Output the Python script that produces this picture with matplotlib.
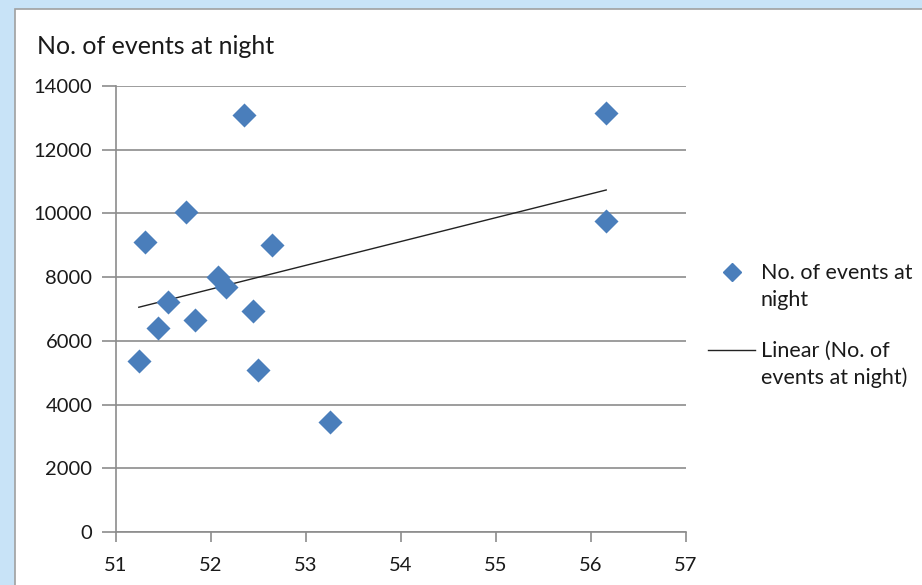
import numpy as np
import matplotlib.pyplot as plt
from matplotlib.patches import Rectangle
from matplotlib.lines import Line2D
from matplotlib.legend_handler import HandlerLine2D

plt.rcParams['font.family'] = ['Lato', 'DejaVu Sans']

# data
xvals = [51.24, 51.31, 51.44, 51.55, 51.74, 51.83, 52.07, 52.16, 52.35, 52.44, 52.49, 52.64, 53.25, 56.16, 56.16]
yvals = [5370, 9100, 6400, 7220, 10040, 6650, 8000, 7690, 13090, 6940, 5090, 9010, 3450, 13150, 9760]
xticks = [51, 52, 53, 54, 55, 56, 57]
yticks = [0, 2000, 4000, 6000, 8000, 10000, 12000, 14000]
title = "No. of events at night"

blue = '#4A7EBB'
grey = '#8C8C8C'


class TopHandler(HandlerLine2D):
    # put the legend symbol on the first line of a two-line label
    def create_artists(self, legend, orig_handle, xdescent, ydescent,
                       width, height, fontsize, trans):
        arts = super().create_artists(legend, orig_handle, xdescent, ydescent,
                                      width, height, fontsize, trans)
        for a in arts:
            a.set_ydata(np.asarray(a.get_ydata()) + 0.70 * fontsize)
        return arts


fig = plt.figure(figsize=(9.22, 5.85), dpi=100)
fig.patch.set_facecolor('#C8E3F7')
fig.add_artist(Rectangle((14.5 / 922, -0.05), 1.0, 1 - 9 / 585 + 0.05,
                         transform=fig.transFigure, facecolor='white',
                         edgecolor='#A0A0A0', lw=1.2, zorder=0))

ax = fig.add_axes([116 / 922, 1 - 532 / 585, 570 / 922, 446 / 585])
ax.set_facecolor('none')

ax.scatter(xvals, yvals, marker='D', s=150, color=blue, zorder=3, linewidths=0)

# linear trendline
m, b = np.polyfit(xvals, yvals, 1)
xs = np.array([min(xvals), max(xvals)])
ax.plot(xs, m * xs + b, color='#222222', lw=1.0, zorder=2)

ax.set_xlim(51, 57)
ax.set_ylim(0, 14000)
ax.set_xticks(xticks)
ax.set_yticks(yticks)
ax.set_xticklabels([str(t) for t in xticks])
ax.set_yticklabels([str(t) for t in yticks])
ax.tick_params(axis='both', labelsize=14.5, colors=grey, labelcolor='#1a1a1a')
ax.tick_params(axis='x', length=7, width=1.2, direction='out', pad=11)
ax.tick_params(axis='y', length=10, width=1.2, direction='out', pad=7)
ax.grid(axis='y', color=grey, lw=1.2)
ax.set_axisbelow(True)
for s in ['top', 'right']:
    ax.spines[s].set_visible(False)
for s in ['left', 'bottom']:
    ax.spines[s].set_color(grey)
    ax.spines[s].set_linewidth(1.2)

fig.text(37 / 922, 1 - 46 / 585, title, fontsize=18, va='center', ha='left', color='#1a1a1a')

handles = [Line2D([], [], marker='D', color=blue, ls='none', ms=9),
           Line2D([], [], color='#222222', lw=1.0)]
labels = ["No. of events at\nnight", "Linear (No. of\nevents at night)"]
leg = fig.legend(handles, labels, loc='upper left', bbox_to_anchor=(708 / 922, 1 - 263 / 585),
                 frameon=False, fontsize=15.5, handlelength=2.2, handletextpad=0.25,
                 labelspacing=1.45, borderpad=0, borderaxespad=0, labelcolor='#1a1a1a',
                 handler_map={Line2D: TopHandler()})
for t in leg.get_texts():
    t.set_linespacing(1.42)

fig.savefig('out.png', dpi=100, facecolor=fig.get_facecolor())
